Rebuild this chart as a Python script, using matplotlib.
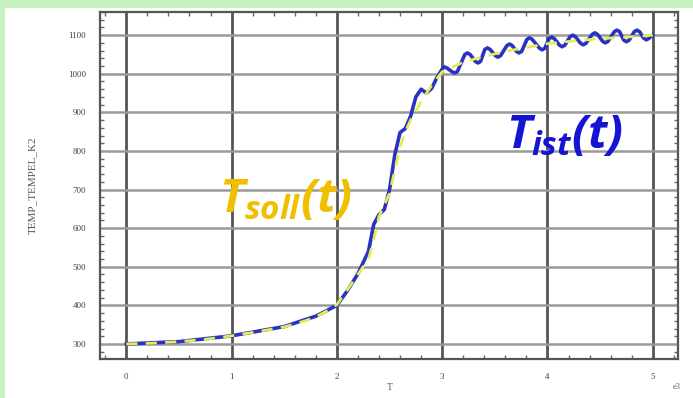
import matplotlib
matplotlib.use("Agg")
import matplotlib.pyplot as plt
from matplotlib.patches import Rectangle
from matplotlib.ticker import MultipleLocator

# setpoint curve T_soll(t), time in 1e3 s
t_soll = [0, 0.25, 0.5, 0.75, 1.0, 1.25, 1.5, 1.7, 1.8, 1.9, 2.0, 2.1, 2.2,
          2.3, 2.35, 2.4, 2.5, 2.55, 2.6, 2.65, 2.7, 2.8, 2.9, 3.0, 3.2,
          3.4, 3.6, 3.8, 4.0, 4.25, 4.5, 4.75, 5.0]
temp_soll = [300, 302, 306, 312, 321, 332, 344, 360, 370, 385, 402, 440, 480,
             520, 570, 630, 690, 750, 810, 850, 880, 928, 970, 1005, 1030,
             1045, 1058, 1068, 1078, 1085, 1091, 1095, 1100]

# measured curve T_ist(t), oscillating around the setpoint after ~2.7
t_ist = [0, 0.5, 1.0, 1.5, 1.8, 2.0, 2.1, 2.2, 2.3, 2.35, 2.4, 2.45, 2.5,
         2.55, 2.6, 2.65, 2.7, 2.75, 2.8, 2.85, 2.9, 2.95, 3.0, 3.02, 3.045,
         3.095, 3.12, 3.145, 3.215, 3.24, 3.265, 3.315, 3.34, 3.365,
         3.405, 3.43, 3.455, 3.505, 3.53, 3.555, 3.615, 3.64, 3.665,
         3.705, 3.73, 3.755, 3.805, 3.83, 3.855, 3.925, 3.95, 3.975,
         4.015, 4.04, 4.065, 4.115, 4.14, 4.165, 4.215, 4.24, 4.265,
         4.315, 4.34, 4.365, 4.425, 4.45, 4.475, 4.525, 4.55, 4.575,
         4.635, 4.66, 4.685, 4.725, 4.75, 4.775, 4.825, 4.85, 4.875,
         4.915, 4.94, 4.965, 5.0]
temp_ist = [300, 306, 321, 345, 372, 400, 438, 482, 540, 610, 635, 648, 700,
            790, 848, 858, 890, 940, 960, 950, 962, 990, 1012, 1018, 1015,
            1005, 1002, 1006, 1050, 1054, 1050, 1032, 1028, 1032,
            1063, 1067, 1063, 1047, 1043, 1047, 1073, 1077, 1073,
            1058, 1054, 1058, 1089, 1093, 1089, 1066, 1062, 1066,
            1091, 1095, 1091, 1074, 1070, 1074, 1096, 1100, 1096,
            1079, 1075, 1079, 1102, 1106, 1102, 1084, 1080, 1084,
            1109, 1113, 1109, 1087, 1083, 1087, 1109, 1113, 1109,
            1092, 1088, 1092, 1100]

x_ticks = [0, 1, 2, 3, 4, 5]
y_ticks = [300, 400, 500, 600, 700, 800, 900, 1000, 1100]

plt.rcParams['mathtext.fontset'] = 'custom'
plt.rcParams['mathtext.it'] = 'Open Sans:italic:bold'
plt.rcParams['mathtext.rm'] = 'Open Sans:italic:bold'

fig = plt.figure(figsize=(6.93, 3.98), dpi=100)
fig.patch.set_facecolor('#c6f2c2')
fig.patches.append(Rectangle((5 / 693, 0), 1, 1 - 8 / 398, transform=fig.transFigure,
                             facecolor='white', edgecolor='none', zorder=-5))

ax = fig.add_axes([100 / 693, 1 - 359 / 398, 578 / 693, 347 / 398])
ax.set_facecolor('white')

ax.plot(t_ist, temp_ist, color='#2a32c4', lw=2.6, solid_joinstyle='round', zorder=3)
ax.plot(t_soll, temp_soll, color='#e2ee52', lw=2, dashes=(4, 3), zorder=4)

ax.set_xlim(-0.25, 5.24)
ax.set_ylim(261, 1160)
ax.set_xticks(x_ticks)
ax.set_yticks(y_ticks)
ax.xaxis.set_minor_locator(MultipleLocator(0.2))
ax.yaxis.set_minor_locator(MultipleLocator(20))
ax.tick_params(which='both', direction='in', top=True, right=True, colors='#666666')
ax.tick_params(which='major', length=0, labelsize=6.5, labelcolor='#444444', pad=10)
ax.tick_params(which='minor', length=3, width=1)
for lbl in ax.get_xticklabels() + ax.get_yticklabels():
    lbl.set_fontfamily('Liberation Serif')

ax.grid(axis='x', color='#555555', lw=2)
ax.grid(axis='y', color='#9a9a9a', lw=1.8)
ax.set_axisbelow(True)
for s in ax.spines.values():
    s.set_color('#555555')
    s.set_linewidth(1.6)

ax.set_ylabel('TEMP_TEMPEL_K2', fontsize=8, color='#555555', labelpad=22,
              family='Liberation Serif')
fig.text(390 / 693, 1 - 387 / 398, 'T', fontsize=7, color='#555555',
         ha='center', va='center', family='Liberation Serif')
fig.text(677 / 693, 1 - 387 / 398, 'e3', fontsize=6, color='#555555',
         ha='center', va='center', family='Liberation Serif')

ax.text(1.51, 673, r'$T_{soll}(t)$', color='#f0c000', fontsize=34,
        ha='center', va='center', zorder=5)
ax.text(4.16, 840, r'$T_{ist}(t)$', color='#1414d2', fontsize=34,
        ha='center', va='center', zorder=5)

fig.savefig('out.png', dpi=100, facecolor=fig.get_facecolor())
